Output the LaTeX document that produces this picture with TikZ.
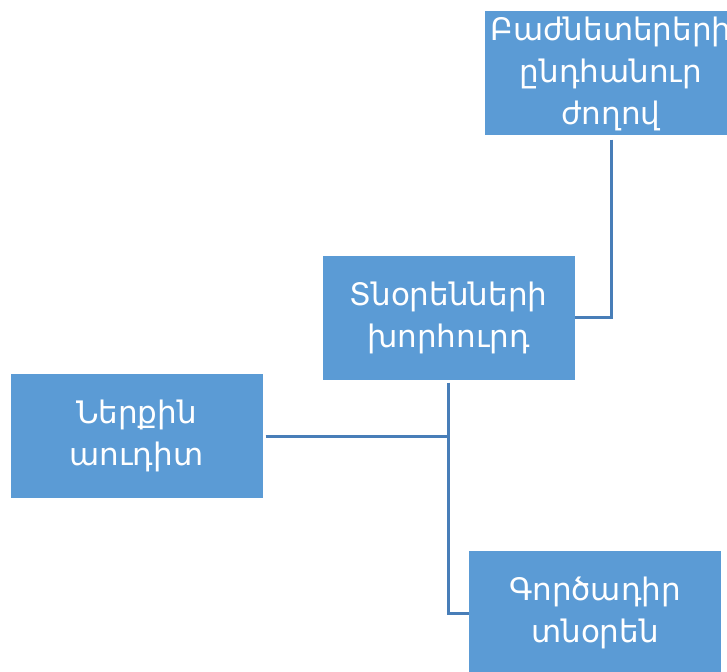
\documentclass[tikz,border=0pt]{standalone}
\usepackage{fontspec}
\setmainfont{DejaVu Sans}
\definecolor{boxfill}{HTML}{5B9BD5}
\definecolor{conn}{RGB}{72,126,184}
\begin{document}
\begin{tikzpicture}[x=1pt,y=-1pt,
  box/.style={fill=boxfill,draw=none,minimum width=252pt,minimum height=124pt,
    text=white,align=center,inner sep=0pt,font=\fontsize{31}{42}\selectfont},
  conline/.style={draw=conn,line width=3pt}]
\useasboundingbox (0,0) rectangle (727,671);
\clip (0,0) rectangle (727,671);
\node[box] (top) at (611,73.5) {Բաժնետերերի\\ընդհանուր\\ժողով};
\node[box] (mid) at (448.5,317.5) {Տնօրենների\\խորհուրդ};
\node[box] (left) at (136.5,436) {Ներքին\\աուդիտ};
\node[box] (bot) at (595,613) {Գործադիր\\տնօրեն};
\coordinate (j1) at (448.5,436);
\draw[conline] ([yshift=-4pt]top.south) |- (mid.east);
\draw[conline] ([yshift=-3pt]mid.south) |- (bot.west);
\draw[conline] ([xshift=3pt]left.east) -- (j1);
\end{tikzpicture}
\end{document}
